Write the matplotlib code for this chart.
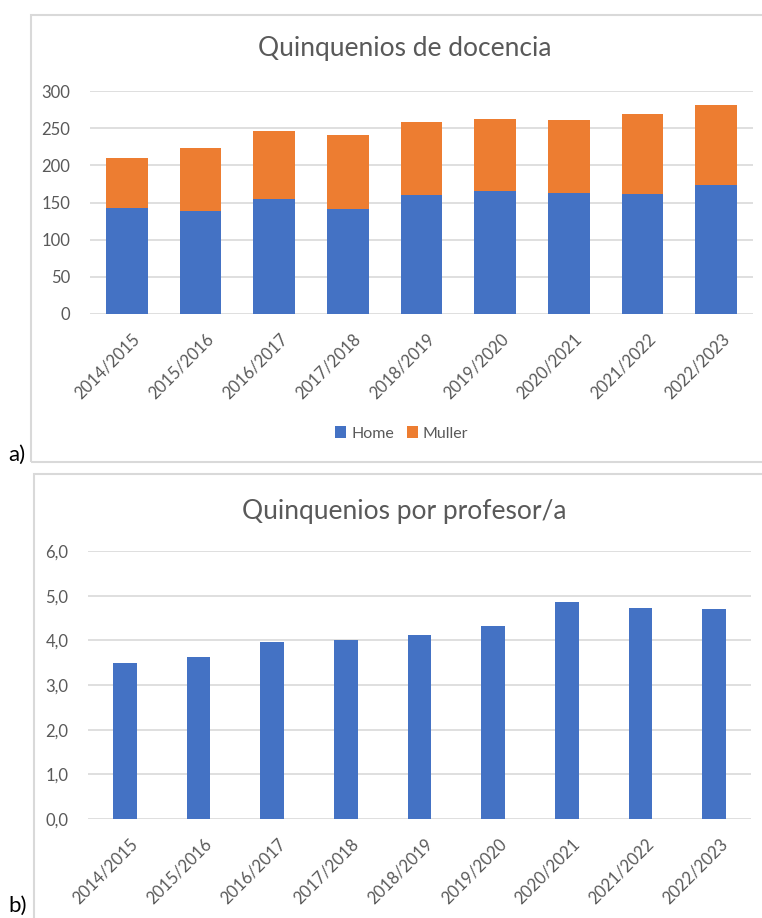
import matplotlib.pyplot as plt
import matplotlib.transforms as mtransforms
from matplotlib.patches import Rectangle
from matplotlib.ticker import FuncFormatter

plt.rcParams["font.family"] = ["Lato", "DejaVu Sans"]

years = ["2014/2015", "2015/2016", "2016/2017", "2017/2018", "2018/2019",
         "2019/2020", "2020/2021", "2021/2022", "2022/2023"]
home = [142, 138, 155, 141, 160, 166, 163, 162, 173]
muller = [68, 85, 91, 100, 98, 97, 98, 107, 108]
per_prof = [3.50, 3.62, 3.97, 4.01, 4.12, 4.32, 4.85, 4.72, 4.70]

blue = "#4472C4"
orange = "#ED7D31"
grid = "#D9D9D9"
txt = "#595959"

W, H = 762, 918
fig = plt.figure(figsize=(W / 100, H / 100), dpi=100)


def px_box(x0, y0, x1, y1):
    # pixel box (top-left origin) -> figure coords
    return [x0 / W, 1 - y1 / H, (x1 - x0) / W, (y1 - y0) / H]


# panel frames
for x0, y0, x1, y1 in [(31, 15, 770, 462), (34, 474, 770, 925)]:
    fig.patches.append(Rectangle((x0 / W, 1 - y1 / H), (x1 - x0) / W, (y1 - y0) / H,
                                 transform=fig.transFigure, fill=False,
                                 edgecolor=grid, lw=1.5))

shift = mtransforms.ScaledTranslation(5 / 100, 0, fig.dpi_scale_trans)


def style(ax):
    for s in ax.spines.values():
        s.set_visible(False)
    ax.yaxis.grid(True, color=grid, lw=1.2)
    ax.set_axisbelow(True)
    ax.tick_params(length=0, colors=txt, labelsize=12)
    ax.tick_params(axis="y", pad=14)
    ax.tick_params(axis="x", pad=12)
    ax.set_xlim(-0.5, len(years) - 0.5)
    ax.set_xticks(range(len(years)))
    ax.set_xticklabels(years, rotation=45, ha="right", rotation_mode="anchor")
    for lab in ax.get_xticklabels():
        lab.set_color(txt)
        lab.set_transform(lab.get_transform() + shift)


# a) stacked bars
ax1 = fig.add_axes(px_box(90, 91, 753, 314))
x = range(len(years))
ax1.bar(x, home, width=0.57, color=blue, label="Home")
ax1.bar(x, muller, width=0.57, bottom=home, color=orange, label="Muller")
ax1.set_ylim(0, 300)
ax1.set_yticks(range(0, 301, 50))
style(ax1)
ax1.set_title("Quinquenios de docencia", color=txt, fontsize=19, pad=25, x=0.474)
ax1.legend(loc="upper center", bbox_to_anchor=(0.47, -0.44), ncol=2, frameon=False,
           fontsize=11.5, handlelength=0.7, handleheight=0.7, handletextpad=0.3,
           columnspacing=0.8, labelcolor=txt)

# b) per professor
ax2 = fig.add_axes(px_box(88, 551, 751, 819))
ax2.bar(x, per_prof, width=0.32, color=blue)
ax2.set_ylim(0, 6)
ax2.set_yticks(range(0, 7))
ax2.yaxis.set_major_formatter(FuncFormatter(lambda v, p: f"{v:.1f}".replace(".", ",")))
style(ax2)
ax2.set_title("Quinquenios por profesor/a", color=txt, fontsize=19, pad=23, x=0.477)

fig.text(8 / W, 1 - 455 / H, "a)", fontsize=16, color="black", va="center")
fig.text(8 / W, 1 - 906 / H, "b)", fontsize=16, color="black", va="center")

fig.savefig("out.png", dpi=100)
